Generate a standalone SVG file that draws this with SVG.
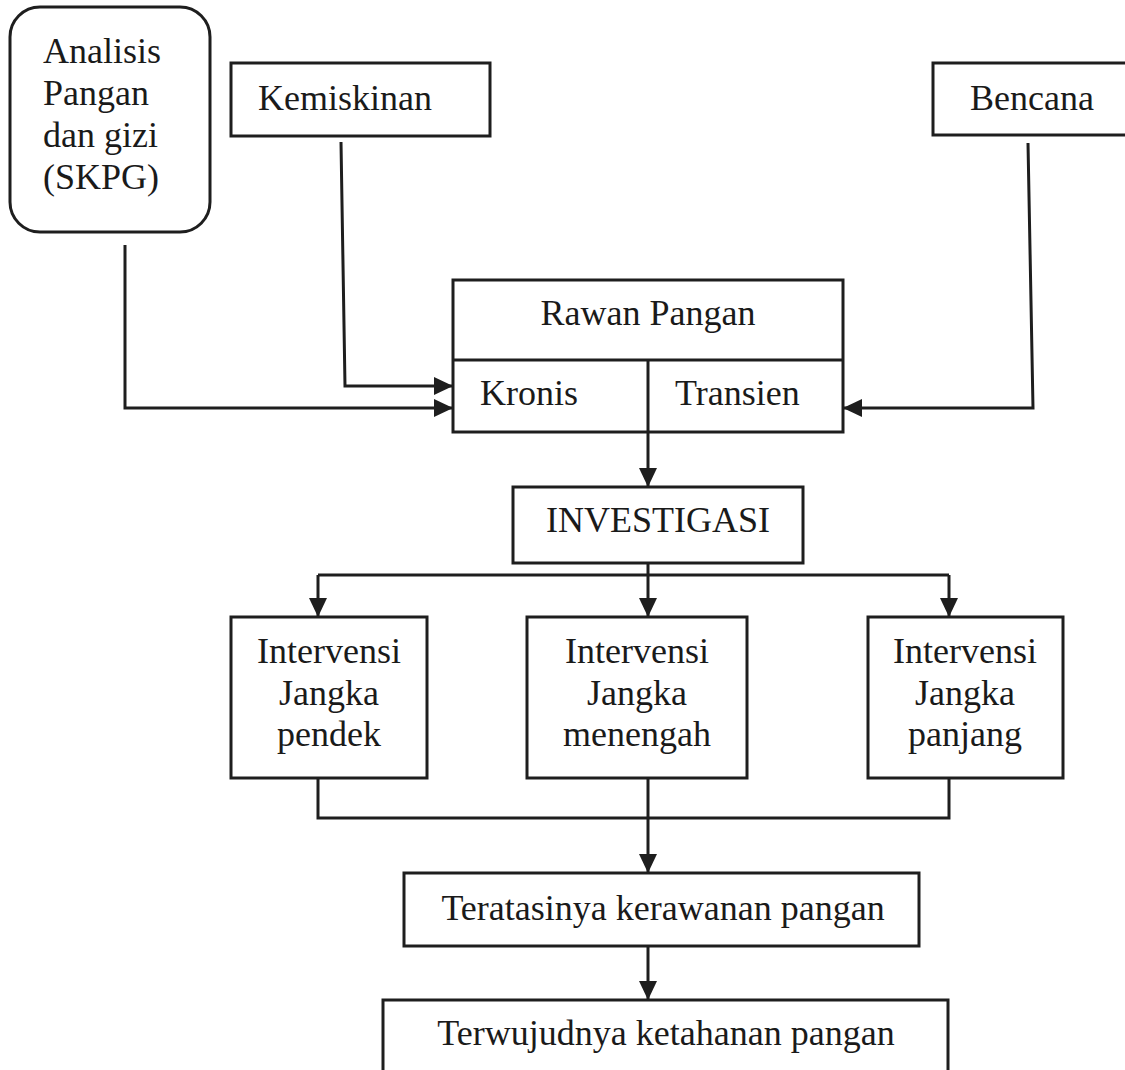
<svg xmlns="http://www.w3.org/2000/svg" width="1125" height="1070" viewBox="0 0 1125 1070">
<style>
.box{fill:#fff;stroke:#1e1e1e;stroke-width:3}
.ln{fill:none;stroke:#1e1e1e;stroke-width:3}
.t{font-family:"Liberation Serif","Times New Roman",serif;font-size:36px;fill:#1a1a1a}
.c{text-anchor:middle}
</style>
<defs>
<marker id="ah" viewBox="0 0 19 18" refX="19" refY="9" markerWidth="19" markerHeight="18" markerUnits="userSpaceOnUse" orient="auto">
<path d="M0,0 L19,9 L0,18 Z" fill="#1e1e1e"/>
</marker>
</defs>
<rect width="1125" height="1070" fill="#fff"/>
<g id="connectors">
<path class="ln" d="M125,245 V408 H453" marker-end="url(#ah)"/>
<path class="ln" d="M341,142 L345,386 H453" marker-end="url(#ah)"/>
<path class="ln" d="M1028,143 L1033,408 H843" marker-end="url(#ah)"/>
<path class="ln" d="M648,432 V487" marker-end="url(#ah)"/>
<path class="ln" d="M648,563 V575 M318,575 H949"/>
<path class="ln" d="M318,575 V617" marker-end="url(#ah)"/>
<path class="ln" d="M648,575 V617" marker-end="url(#ah)"/>
<path class="ln" d="M949,575 V617" marker-end="url(#ah)"/>
<path class="ln" d="M318,778 V818 H949 V778"/>
<path class="ln" d="M648,778 V873" marker-end="url(#ah)"/>
<path class="ln" d="M648,946 V1000" marker-end="url(#ah)"/>
</g>
<g id="analisis">
<rect class="box" x="10" y="7" width="200" height="225" rx="30" ry="30"/>
<text class="t" x="43" y="63">Analisis</text>
<text class="t" x="43" y="105">Pangan</text>
<text class="t" x="43" y="147">dan gizi</text>
<text class="t" x="43" y="189">(SKPG)</text>
</g>
<g id="kemiskinan">
<rect class="box" x="231" y="63" width="259" height="73"/>
<text class="t" x="258" y="110">Kemiskinan</text>
</g>
<g id="bencana">
<rect class="box" x="933" y="63" width="210" height="72"/>
<text class="t c" x="1032" y="110">Bencana</text>
</g>
<g id="rawan-pangan">
<rect class="box" x="453" y="280" width="390" height="152"/>
<line class="ln" x1="453" y1="360" x2="843" y2="360"/>
<line class="ln" x1="648" y1="360" x2="648" y2="432"/>
<text class="t c" x="648" y="325">Rawan Pangan</text>
<text class="t" x="480" y="405">Kronis</text>
<text class="t" x="675" y="405">Transien</text>
</g>
<g id="investigasi">
<rect class="box" x="513" y="487" width="290" height="76"/>
<text class="t c" x="658" y="532">INVESTIGASI</text>
</g>
<g id="intervensi-pendek">
<rect class="box" x="231" y="617" width="196" height="161"/>
<text class="t c" x="329" y="663">Intervensi</text>
<text class="t c" x="329" y="705">Jangka</text>
<text class="t c" x="329" y="746">pendek</text>
</g>
<g id="intervensi-menengah">
<rect class="box" x="527" y="617" width="220" height="161"/>
<text class="t c" x="637" y="663">Intervensi</text>
<text class="t c" x="637" y="705">Jangka</text>
<text class="t c" x="637" y="746">menengah</text>
</g>
<g id="intervensi-panjang">
<rect class="box" x="868" y="617" width="195" height="161"/>
<text class="t c" x="965" y="663">Intervensi</text>
<text class="t c" x="965" y="705">Jangka</text>
<text class="t c" x="965" y="746">panjang</text>
</g>
<g id="teratasinya">
<rect class="box" x="404" y="873" width="515" height="73"/>
<text class="t c" x="663" y="920">Teratasinya kerawanan pangan</text>
</g>
<g id="terwujudnya">
<rect class="box" x="383" y="1000" width="565" height="90"/>
<text class="t c" x="666" y="1045">Terwujudnya ketahanan pangan</text>
</g>
</svg>
